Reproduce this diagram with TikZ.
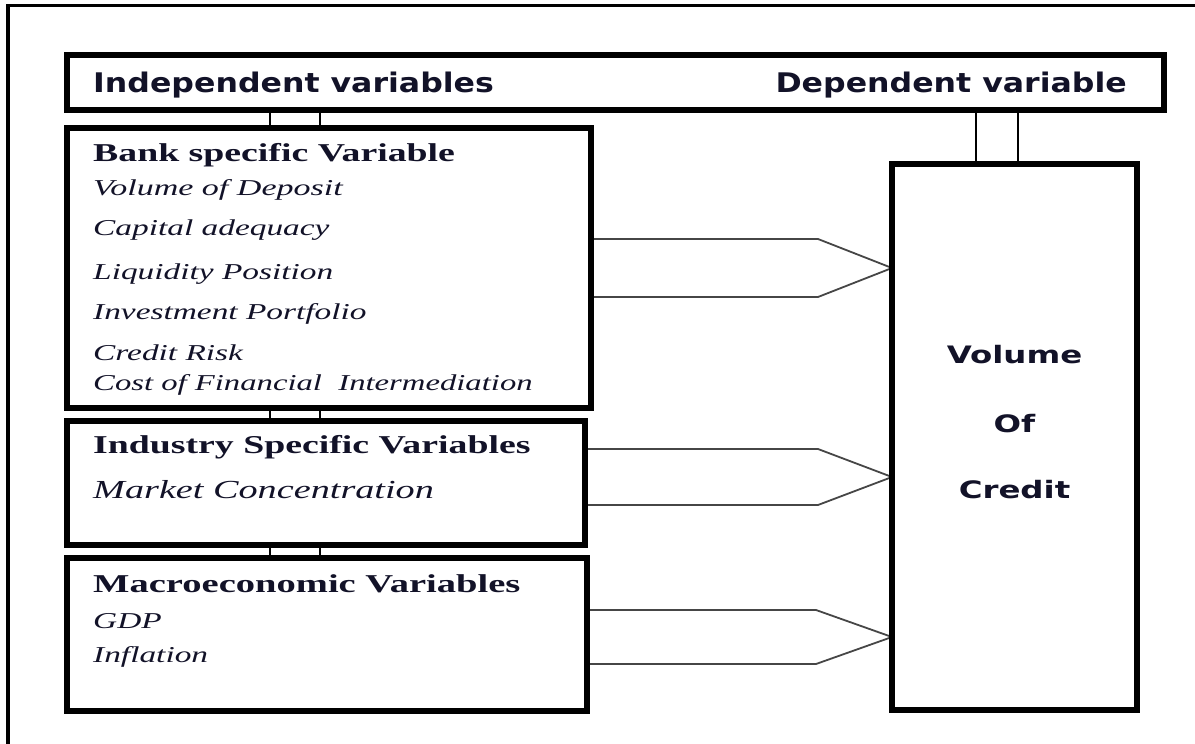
\documentclass[tikz,border=0pt]{standalone}
\usepackage{fontspec}
\usepackage{graphicx}
\setmainfont{Liberation Serif}
\newfontfamily\vsans{DejaVu Sans}
\definecolor{ink}{RGB}{18,18,40}
\definecolor{flowgray}{RGB}{70,70,70}
\newcommand{\xwide}[2]{\scalebox{#1}[1]{#2}}
\pgfdeclarelayer{back}
\pgfsetlayers{back,main}
\tikzset{
	box/.style={draw,line width=5.5pt,inner sep=0,outer sep=0,anchor=north west},
	link/.style={draw,line width=1.8pt},
	flow/.style={draw=flowgray,line width=1.8pt,line join=miter},
	headtxt/.style={inner sep=0,text=ink,font=\vsans\bfseries\fontsize{27}{32}\selectfont},
	voltxt/.style={inner sep=0,anchor=base,text=ink,font=\vsans\bfseries\fontsize{24}{29}\selectfont},
	grptxt/.style={inner sep=0,anchor=base west,text=ink,font=\bfseries\fontsize{25.7}{30}\selectfont},
	itemtxt/.style={inner sep=0,anchor=base west,text=ink,font=\itshape\fontsize{22.7}{27}\selectfont},
}
\begin{document}
\begin{tikzpicture}[x=1pt,y=-1pt]
	\useasboundingbox (0,0) rectangle (1195,744);
	\draw[line width=3.5pt] (8,744) -- (8,5.5) -- (1195,5.5);
	\node[box,minimum width=1097pt,minimum height=55pt] (head) at (67,55) {};
	\node[box,minimum width=524pt,minimum height=280pt] (bank) at (67,128) {};
	\node[box,minimum width=518pt,minimum height=124pt] (industry) at (67,421) {};
	\node[box,minimum width=520pt,minimum height=153pt] (macro) at (67,558) {};
	\node[box,minimum width=245pt,minimum height=546pt] (credit) at (892,164) {};
	\begin{pgfonlayer}{back}
		\draw[link] (270,0 |- head.south) rectangle (320,0 |- bank.north);
		\draw[link] (270,0 |- bank.south) rectangle (320,0 |- industry.north);
		\draw[link] (270,0 |- industry.south) rectangle (320,0 |- macro.north);
		\draw[link] (976,0 |- head.south) rectangle (1018,0 |- credit.north);
		\draw[flow] (bank.east |- 0,239) -- (818,239) -- (credit.west |- 0,268) -- (818,297) -- (bank.east |- 0,297);
		\draw[flow] (industry.east |- 0,449) -- (818,449) -- (credit.west |- 0,477) -- (818,505) -- (industry.east |- 0,505);
		\draw[flow] (macro.east |- 0,610) -- (816,610) -- (credit.west |- 0,637) -- (816,664) -- (macro.east |- 0,664);
	\end{pgfonlayer}
	\node[headtxt,anchor=base west] (indep) at (93,92) {\xwide{1.17}{Independent variables}};
	\node[headtxt,anchor=base east] (dep) at (1127,92) {\xwide{1.17}{Dependent variable}};
	\node[grptxt] (banktitle) at (93,161) {\xwide{1.47}{Bank specific Variable}};
	\node[itemtxt] (deposit) at (93,195) {\xwide{1.5}{Volume of Deposit}};
	\node[itemtxt] (capital) at (93,235) {\xwide{1.47}{Capital adequacy}};
	\node[itemtxt] (liquidity) at (93,279) {\xwide{1.47}{Liquidity Position}};
	\node[itemtxt] (portfolio) at (93,319) {\xwide{1.47}{Investment Portfolio}};
	\node[itemtxt] (risk) at (93,360) {\xwide{1.47}{Credit Risk}};
	\node[itemtxt] (cost) at (93,390) {\xwide{1.44}{Cost of Financial\ \ Intermediation}};
	\node[grptxt] (indtitle) at (93,453) {\xwide{1.47}{Industry Specific Variables}};
	\node[itemtxt,font=\itshape\fontsize{26}{30}\selectfont] (market) at (93,498) {\xwide{1.47}{Market Concentration}};
	\node[grptxt] (macrotitle) at (93,592) {\xwide{1.5}{Macroeconomic Variables}};
	\node[itemtxt] (gdp) at (93,628) {\xwide{1.47}{GDP}};
	\node[itemtxt] (inflation) at (93,662) {\xwide{1.47}{Inflation}};
	\node[voltxt] (vol) at (credit.north |- 0,363) {\xwide{1.35}{Volume}};
	\node[voltxt] (of) at (credit.north |- 0,432) {\xwide{1.35}{Of}};
	\node[voltxt] (cred) at (credit.north |- 0,498) {\xwide{1.35}{Credit}};
\end{tikzpicture}
\end{document}
